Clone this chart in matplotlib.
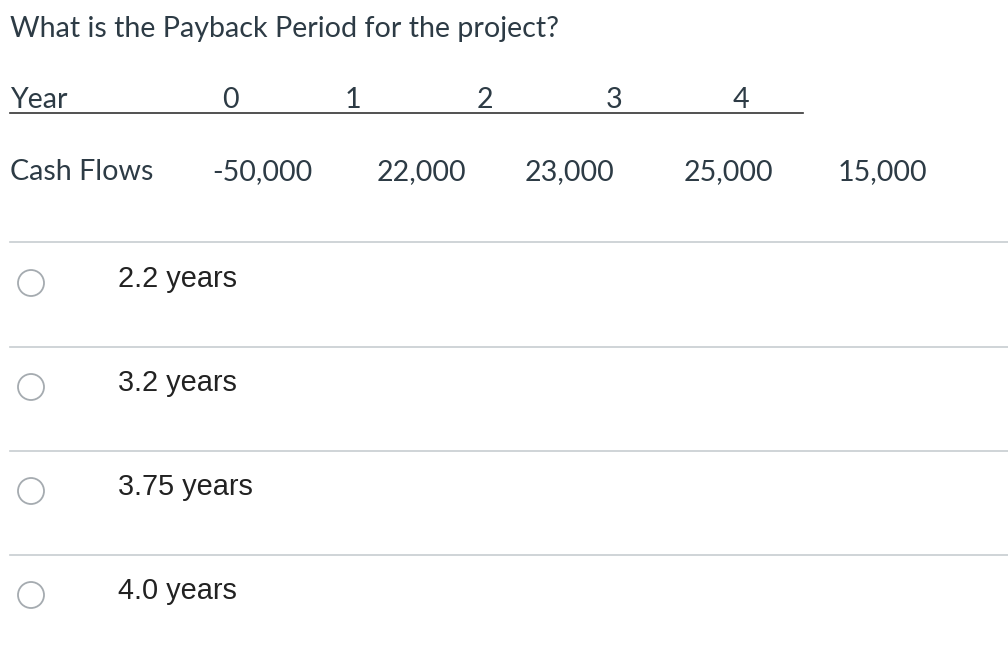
import matplotlib.pyplot as plt
from matplotlib.patches import Circle

question = "What is the Payback Period for the project?"
years = ["0", "1", "2", "3", "4"]
year_x = [230, 353, 485, 614, 741]
cash_flows = ["-50,000", "22,000", "23,000", "25,000", "15,000"]
cash_x = [262, 421, 569, 728, 882]
options = ["2.2 years", "3.2 years", "3.75 years", "4.0 years"]
option_y = [279, 383, 487, 591]
sep_y = [242, 347, 451, 555]

fig = plt.figure(figsize=(10.08, 6.58), dpi=100)
ax = fig.add_axes([0, 0, 1, 1])
ax.set_xlim(0, 1008)
ax.set_ylim(658, 0)
ax.axis("off")

lato = "Lato"
txt = "#2d3b45"
ax.text(10, 29, question, fontsize=20.6, family=lato, color=txt, va="center")

ax.text(10, 100, "Year", fontsize=20.6, family=lato, color=txt, va="center")
ax.plot([10, 803], [113, 113], color="#333333", lw=1.2)
for x, y in zip(year_x, years):
    ax.text(x, 100, y, fontsize=20.6, family=lato, color=txt, ha="center", va="center")

ax.text(10, 172, "Cash Flows", fontsize=20.6, family=lato, color=txt, va="center")
for x, c in zip(cash_x, cash_flows):
    ax.text(x, 172, c, fontsize=20.6, family=lato, color=txt, ha="center", va="center")

for y in sep_y:
    ax.plot([10, 1008], [y, y], color="#c7cdd1", lw=1.2)

for y, o in zip(option_y, options):
    ax.add_patch(Circle((31, y + 4), 13, facecolor="white", edgecolor="#a5abb0", lw=1.3))
    ax.text(118, y, o, fontsize=20.8, family="Liberation Sans", color="#222222", va="center")

fig.savefig("out.png", dpi=100)
